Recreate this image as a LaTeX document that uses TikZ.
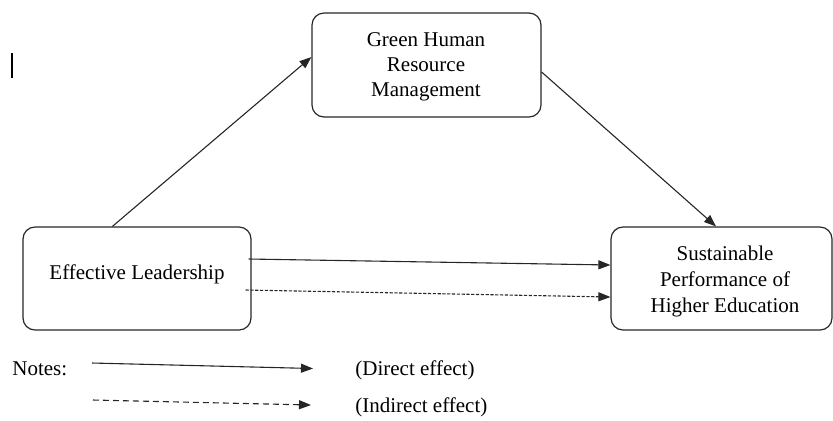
\documentclass[tikz,border=0pt]{standalone}
\usepackage{fontspec}
\setmainfont{Liberation Serif}
\usetikzlibrary{arrows.meta,calc}
\begin{document}
\begin{tikzpicture}[x=0.5pt,y=-0.5pt,
  box/.style={draw=black!85, line width=0.6pt, rounded corners=6pt, inner sep=0pt},
  lbl/.style={font=\fontsize{10.5}{12.6}\selectfont, align=center, inner sep=0pt},
  arr/.style={-{Triangle[length=6pt,width=4.5pt]}, line width=0.55pt, draw=black!85},
  ind/.style={arr, dash pattern=on 1.6pt off 0.8pt},
  legdash/.style={arr, dash pattern=on 3pt off 2pt}]
\useasboundingbox (0,0) rectangle (833,420);

% boxes
\node[box, minimum width=114pt, minimum height=51.5pt] (el) at (137,278.5) {};
\node[box, minimum width=114.5pt, minimum height=52pt] (gh) at (426.5,65) {};
\node[box, minimum width=110.5pt, minimum height=51.5pt] (sp) at (721.5,278.5) {};

% labels
\node[lbl] (elt) at (137,274) {Effective Leadership};
\node[lbl] (ght) at (426,67) {Green Human\\Resource\\Management};
\node[lbl, font=\fontsize{10.5}{13}\selectfont] (spt) at (725,281) {Sustainable\\Performance of\\Higher Education};

% connectors
\draw[arr] ([xshift=45pt]el.north west) -- ([yshift=4pt]gh.west);
\draw[arr] ([yshift=-3.5pt]gh.east) -- ([xshift=-2.75pt]sp.north);
\draw[arr] ([xshift=-1.5pt,yshift=9.75pt]el.east) -- ([yshift=6.75pt]sp.west);
\draw[ind] ([xshift=-3pt,yshift=-5.75pt]el.east) -- ([yshift=-9.25pt]sp.west);

% cursor mark
\draw[line width=0.6pt] (12,53) -- (12,78);

% legend
\node[lbl, anchor=base west] (notes) at (12,375) {Notes:};
\coordinate (l1a) at (92,363);
\coordinate (l1b) at (313,368.5);
\coordinate (l2a) at (93,400);
\coordinate (l2b) at (311,405);
\draw[arr] (l1a) -- (l1b);
\draw[legdash] (l2a) -- (l2b);
\node[lbl, anchor=base west] (direct) at (355,375) {(Direct effect)};
\node[lbl, anchor=base west] (indirect) at (355,412) {(Indirect effect)};
\end{tikzpicture}
\end{document}
